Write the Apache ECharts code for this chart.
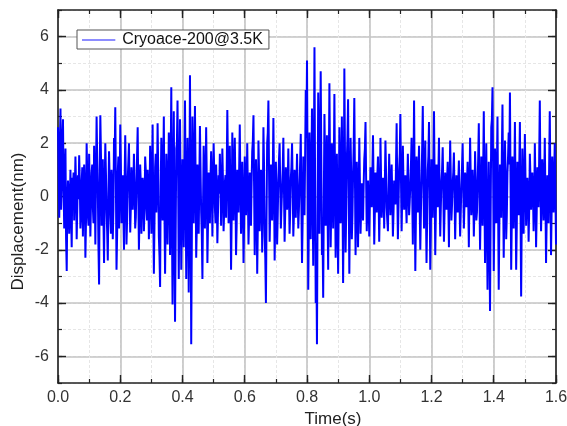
<!DOCTYPE html>
<html>
<head>
<meta charset="utf-8">
<script src="https://cdn.jsdelivr.net/npm/echarts@6/dist/echarts.min.js"></script>
<style>
html,body{margin:0;padding:0;background:#fff}
#chart{width:567px;height:426px}
</style>
</head>
<body>
<div id="chart"></div>
<script>
// Displacement record of the cold stage, sampled every 2 ms (one row = 0.1 s)
const seriesName = 'Cryoace-200@3.5K';
const sampleInterval = 0.002; // s

const displacement = [
  2.6,1.1,-0.8,1.9,3.3,-0.5,0.4,2.2,2.9,0.3,-1.2,0.9,1.8,-1.6,-2.8,-0.2,0.6,0.2,-1.4,-0.3,1.0,-0.6,-1.9,0.7,0.3,0.9,-0.9,0.2,1.5,0.4,-1.6,-0.4,0.8,-0.1,1.55,0.6,-1.2,-0.7,0.5,1.1,-1.5,0.2,1.2,0.4,-2.3,-0.9,2.0,0.8,-0.7,-1.1,
  1.6,0.3,-1.5,-0.2,0.9,1.2,-0.4,-1.0,1.9,0.5,-1.8,0.6,3.0,1.4,0.2,-1.9,-3.3,0.8,3.05,1.6,-1.1,-0.3,1.4,-0.8,-2.5,0.4,2.0,0.9,-0.6,-1.3,-2.4,0.1,1.7,0.6,-0.8,-1.4,1.0,0.3,-1.6,-0.5,2.2,1.3,3.35,0.5,-2.75,-1.4,0.9,1.5,-1.2,0.0,
  2.7,1.2,-1.0,-0.3,0.8,-0.7,-2.0,0.5,2.3,0.7,-1.8,-0.9,0.6,1.3,2.0,0.2,-1.35,-0.4,1.1,0.6,-0.5,0.3,1.6,0.4,-1.2,-0.8,0.4,1.5,2.6,0.1,-2.0,-0.6,1.2,0.5,-1.4,-0.2,0.7,0.4,-1.3,-0.5,1.5,1.0,-0.3,-0.9,1.0,0.2,-1.6,-0.1,1.9,0.7,
  -1.4,0.8,2.7,-0.4,-2.9,-1.0,1.1,1.6,-0.6,0.5,2.75,1.0,-1.5,-2.2,-3.4,0.4,2.2,1.1,-0.9,0.9,3.0,-0.6,-2.9,-0.8,1.6,0.6,-1.8,0.2,2.4,0.9,-2.2,1.3,4.1,-0.9,-4.05,0.6,3.2,-1.2,-4.7,-1.5,1.8,2.0,3.6,0.7,-3.1,-0.2,2.9,0.3,-2.75,-0.7,
  1.4,-0.4,-1.9,1.1,3.6,0.4,-3.1,-0.7,2.2,0.1,-3.6,-0.2,4.55,0.3,-5.55,-1.6,3.0,1.3,-1.0,0.8,3.4,0.9,-2.3,-1.1,1.2,0.2,-1.4,0.5,2.65,1.0,-0.6,-1.4,-3.1,-0.3,1.9,0.7,-1.2,0.4,2.6,0.6,-2.5,-1.0,0.9,0.3,-1.0,0.6,1.7,0.5,-1.5,0.4,
  2.0,0.9,-0.4,-1.0,1.2,0.3,-1.75,-0.6,0.8,0.1,1.6,0.5,-1.1,0.2,1.8,0.6,-1.3,-0.5,0.5,0.8,-0.8,0.9,3.25,1.2,-1.0,-0.3,1.9,0.0,-2.75,-0.8,2.4,1.1,-0.9,0.6,2.2,0.4,-2.2,-1.1,1.0,0.7,-0.6,1.0,2.7,0.5,-1.4,-0.5,1.3,0.1,-2.5,-1.0,
  1.5,0.6,-0.7,0.4,2.0,0.2,-1.8,-0.8,0.9,0.3,-1.1,0.5,1.7,2.1,3.05,0.4,-2.2,-0.6,1.4,0.2,-2.9,-1.1,2.1,0.9,-1.3,-0.4,1.0,0.6,-2.1,-0.2,2.6,1.1,-1.5,-2.3,-4.0,-0.8,2.0,2.4,3.6,1.0,-1.7,-0.5,1.2,0.4,-0.9,0.8,2.95,0.5,-2.4,-0.9,
  1.3,0.2,-1.8,-0.7,0.6,1.4,2.0,0.5,-1.2,-0.4,0.3,1.0,2.2,0.3,-1.7,-0.6,1.1,0.7,-0.5,0.4,1.8,0.1,-1.4,-0.6,0.7,1.1,2.0,0.4,-1.5,-0.7,1.0,0.6,-0.8,0.5,1.6,0.2,-1.2,-0.5,0.4,1.3,2.35,-0.4,-2.5,-0.9,1.5,0.4,-0.7,1.5,4.0,2.2,
  5.1,0.8,-3.5,-1.0,2.4,0.7,-1.6,0.9,3.3,0.2,-2.6,1.2,5.6,0.6,-4.0,-2.1,-5.55,-0.5,3.9,1.5,-1.4,1.6,4.7,1.3,-2.2,-1.4,-3.8,-0.2,3.1,1.4,-1.1,0.3,2.3,-0.5,-2.75,0.9,4.25,1.2,-1.9,-0.4,2.0,0.8,-1.2,1.0,3.85,0.6,-2.3,-0.7,1.6,-0.8,
  -2.9,-0.3,2.6,1.0,-1.0,0.6,3.0,0.1,-3.25,-0.4,4.8,1.7,-2.1,-0.6,1.4,2.2,3.65,0.3,-2.9,-0.5,2.2,0.8,-1.6,-0.7,0.8,1.9,3.7,0.8,-2.2,-0.6,1.3,0.4,-1.9,-0.1,2.2,0.6,-1.4,-0.5,0.5,0.2,-0.9,0.4,1.4,1.8,2.8,0.6,-1.3,-0.4,0.6,-0.2,
  -1.5,-0.2,1.1,0.5,-0.4,0.9,2.3,0.4,-1.8,-0.6,0.9,0.2,-0.6,0.8,1.5,0.1,-1.7,-0.3,2.2,0.7,-0.8,-0.1,0.7,0.3,-1.2,0.4,2.1,0.9,-0.4,-0.9,-1.3,0.2,1.6,0.5,-0.7,0.3,1.2,0.0,-1.5,-0.6,0.6,0.4,-0.3,1.2,2.75,0.3,-1.6,-0.4,1.0,1.6,
  3.1,0.6,-1.3,0.1,1.9,0.5,-0.5,0.3,0.8,-0.2,-1.0,0.4,1.6,0.5,-0.7,-0.2,0.4,1.2,2.2,0.2,-1.8,0.8,3.6,0.4,-2.8,-0.7,1.5,0.6,-0.6,0.9,1.9,-0.3,-2.0,-0.6,0.7,1.8,3.4,0.6,-1.2,0.5,2.1,-0.4,-2.5,-0.9,1.0,1.5,2.8,0.2,-2.75,-1.2,
  1.4,0.3,-0.8,1.0,3.2,0.7,-2.2,-0.6,1.2,0.4,-0.4,0.8,2.2,0.1,-1.5,-0.4,0.6,1.0,1.85,0.2,-1.7,-0.5,0.9,0.3,-0.5,0.6,1.3,-0.2,-1.9,0.4,2.1,0.7,-0.9,-0.3,0.5,0.9,1.65,0.1,-1.6,-0.4,0.8,0.4,-0.6,0.5,1.35,-0.2,-1.5,-0.6,0.4,1.1,
  2.0,0.4,-1.2,-0.3,0.9,0.6,-0.4,0.5,1.3,-0.1,-1.9,0.3,2.2,0.8,-0.7,-0.2,1.0,0.3,-1.5,-0.4,1.7,0.6,-0.9,-0.6,0.4,1.4,2.75,0.2,-2.0,-0.5,1.5,0.8,-1.1,1.0,3.2,0.1,-2.5,-0.4,2.0,-0.8,-3.5,-1.0,1.3,-1.2,-4.3,-0.7,2.6,2.9,4.1,1.0,
  -2.8,-0.6,1.8,0.6,-1.0,0.9,3.0,-0.3,-3.5,-1.1,1.2,0.3,-0.8,1.6,3.45,0.4,-2.3,-0.5,2.1,0.8,-1.6,-0.7,0.9,1.5,2.4,1.2,3.9,0.5,-2.75,-0.9,1.5,0.4,-1.2,0.6,2.8,0.2,-2.75,-1.1,1.3,0.2,-0.7,1.1,2.8,-0.4,-3.75,-0.8,1.8,0.3,-1.4,0.5,
  2.35,0.6,-1.1,-0.2,0.7,0.1,-1.7,-0.4,1.6,0.7,-0.5,0.3,0.9,0.2,-1.3,-0.3,2.0,0.4,-1.9,-0.6,1.1,0.5,-0.4,1.5,3.6,0.5,-1.3,-0.2,1.4,0.6,-0.9,0.5,2.2,0.0,-2.5,-0.9,0.8,0.4,-1.0,1.2,3.2,0.6,-2.2,-0.5,1.5,0.3,-0.6,0.8,2.0,0.2,
  -1.8
];

// Axis ranges and tick texts
const xRange = [0, 1.6];
const yRange = [-7, 7];
const xTickLabels = ['0.0','0.2','0.4','0.6','0.8','1.0','1.2','1.4','1.6'];
const yMajorTicks = [-6,-4,-2,0,2,4,6];

const points = displacement.map((v, i) => [+(i * sampleInterval).toFixed(4), v]);

const font = "'Liberation Sans', Arial, sans-serif";
const axisColor = '#222';
const minorGrid = {show: true, lineStyle: {color: '#e6e6e6', type: [3, 2], width: 1}};

const chart = echarts.init(document.getElementById('chart'), null, {renderer: 'canvas'});

chart.setOption({
  animation: false,
  backgroundColor: '#fff',
  grid: {left: 58, right: 11, top: 10, bottom: 43, containLabel: false, outerBoundsMode: 'none'},
  legend: {
    left: 77, top: 30,
    orient: 'horizontal',
    data: [{name: seriesName, icon: 'path://M0,0H1V0.06H0Z', itemStyle: {color: '#8c8cff'}}],
    itemWidth: 37, itemHeight: 2,
    itemGap: 4,
    padding: [2, 6, 1, 5],
    borderColor: '#555', borderWidth: 1, borderRadius: 0,
    backgroundColor: '#fff',
    textStyle: {fontFamily: font, fontSize: 16, color: '#111'}
  },
  xAxis: [
    { // bottom, minor steps + labels
      type: 'value', position: 'bottom', min: xRange[0], max: xRange[1], interval: 0.1,
      axisLine: {show: true, onZero: false, lineStyle: {color: axisColor, width: 1.6}},
      axisTick: {show: true, inside: true, length: 4, lineStyle: {color: axisColor, width: 1.2}},
      axisLabel: {
        show: true, margin: 7, fontFamily: font, fontSize: 16, color: '#333',
        formatter: v => { const k = Math.round(v * 10); return k % 2 === 0 ? xTickLabels[k / 2] : ''; }
      },
      splitLine: minorGrid,
      name: 'Time(s)', nameLocation: 'middle', nameGap: 18,
      nameTextStyle: {fontFamily: font, fontSize: 17, color: '#222', verticalAlign: 'top', padding: [0, 0, 0, 52]}
    },
    { // bottom, major steps
      type: 'value', position: 'bottom', min: xRange[0], max: xRange[1], interval: 0.2,
      axisLine: {show: false, onZero: false},
      axisTick: {show: true, inside: true, length: 8, lineStyle: {color: axisColor, width: 1.4}},
      axisLabel: {show: false},
      splitLine: {show: true, lineStyle: {color: '#c4c4c4', width: 1.6}}
    },
    { // top frame
      type: 'value', position: 'top', min: xRange[0], max: xRange[1], interval: 0.1,
      axisLine: {show: true, onZero: false, lineStyle: {color: axisColor, width: 1.6}},
      axisTick: {show: true, inside: true, length: 4, lineStyle: {color: axisColor, width: 1.2}},
      axisLabel: {show: false}, splitLine: {show: false}
    },
    {
      type: 'value', position: 'top', min: xRange[0], max: xRange[1], interval: 0.2,
      axisLine: {show: false, onZero: false},
      axisTick: {show: true, inside: true, length: 8, lineStyle: {color: axisColor, width: 1.4}},
      axisLabel: {show: false}, splitLine: {show: false}
    }
  ],
  yAxis: [
    { // left, unit steps
      type: 'value', position: 'left', min: yRange[0], max: yRange[1], interval: 1,
      axisLine: {show: true, onZero: false, lineStyle: {color: axisColor, width: 1.6}},
      axisTick: {show: true, inside: true, length: 4, lineStyle: {color: axisColor, width: 1.2}},
      axisLabel: {show: false},
      splitLine: minorGrid,
      name: 'Displacement(nm)', nameLocation: 'middle', nameGap: 31, nameRotate: 90,
      nameTextStyle: {fontFamily: font, fontSize: 17, color: '#222', padding: [0, 50, 0, 0]}
    },
    { // left, major ticks and labels
      type: 'value', position: 'left', min: yRange[0], max: yRange[1],
      axisLine: {show: false, onZero: false},
      axisTick: {show: true, inside: true, length: 8, customValues: yMajorTicks, lineStyle: {color: axisColor, width: 1.4}},
      axisLabel: {show: true, margin: 9, customValues: yMajorTicks, fontFamily: font, fontSize: 16, color: '#333'},
      splitLine: {show: true, lineStyle: {color: '#c4c4c4', width: 1.6}}
    },
    { // right frame
      type: 'value', position: 'right', min: yRange[0], max: yRange[1], interval: 1,
      axisLine: {show: true, onZero: false, lineStyle: {color: axisColor, width: 1.6}},
      axisTick: {show: true, inside: true, length: 4, lineStyle: {color: axisColor, width: 1.2}},
      axisLabel: {show: false}, splitLine: {show: false}
    },
    {
      type: 'value', position: 'right', min: yRange[0], max: yRange[1],
      axisLine: {show: false, onZero: false},
      axisTick: {show: true, inside: true, length: 8, customValues: yMajorTicks, lineStyle: {color: axisColor, width: 1.4}},
      axisLabel: {show: false}, splitLine: {show: false}
    }
  ],
  series: [{
    name: seriesName,
    type: 'line',
    xAxisIndex: 0, yAxisIndex: 0,
    data: points,
    showSymbol: false,
    symbol: 'none',
    sampling: false,
    lineStyle: {color: '#0000ff', width: 2},
    itemStyle: {color: '#0000ff'},
    z: 3
  }]
});
</script>
</body>
</html>
